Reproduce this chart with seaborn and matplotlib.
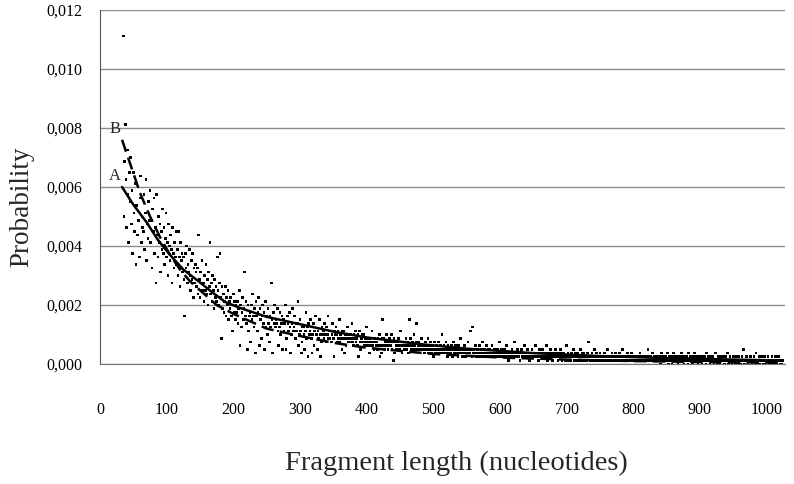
import numpy as np
import pandas as pd
import matplotlib
matplotlib.use("Agg")
import matplotlib.pyplot as plt
from matplotlib.ticker import FuncFormatter, MultipleLocator
import seaborn as sns

# Fragment counts per length (lengths 35..1024 nt), normalised by the total count
first_length = 35
last_length = 1024
total_fragments = 8000
counts = [
    89, 40, 55, 65, 50, 37, 58, 46, 33, 52,
    44, 56, 38, 47, 30, 52, 41, 36, 49, 27,
    43, 35, 48, 39, 29, 45, 51, 33, 40, 37,
    36, 46, 31, 41, 50, 28, 38, 34, 44, 39,
    47, 33, 39, 26, 42, 36, 45, 30, 37, 22,
    46, 35, 29, 40, 33, 38, 25, 36, 31, 42,
    30, 37, 27, 34, 41, 29, 33, 24, 38, 32,
    28, 35, 31, 22, 37, 30, 26, 33, 29, 36,
    27, 31, 24, 36, 29, 21, 33, 28, 30, 25,
    29, 23, 13, 30, 26, 32, 22, 27, 25, 31,
    24, 20, 28, 23, 30, 18, 26, 22, 27, 25,
    21, 26, 19, 35, 23, 18, 25, 22, 28, 20,
    22, 17, 24, 20, 27, 19, 23, 16, 25, 21,
    33, 19, 22, 17, 24, 20, 15, 23, 18, 21,
    17, 29, 20, 16, 22, 30, 18, 7, 21, 15,
    19, 14, 17, 21, 13, 18, 16, 20, 12, 17,
    15, 18, 13, 16, 9, 19, 14, 17, 12, 16,
    14, 17, 11, 15, 20, 5, 16, 10, 14, 18,
    12, 15, 25, 13, 17, 11, 4, 16, 9, 13,
    14, 6, 16, 12, 19, 13, 10, 15, 3, 17,
    13, 9, 14, 18, 5, 15, 12, 7, 13, 16,
    11, 14, 4, 17, 10, 13, 8, 15, 11, 6,
    13, 10, 22, 12, 3, 14, 11, 16, 10, 12,
    11, 15, 9, 5, 10, 14, 8, 11, 13, 4,
    12, 9, 11, 16, 4, 7, 13, 11, 9, 14,
    10, 3, 8, 11, 15, 9, 10, 13, 7, 11,
    9, 11, 17, 5, 8, 12, 9, 3, 6, 10,
    10, 8, 4, 9, 14, 7, 10, 2, 11, 8,
    9, 12, 7, 3, 8, 11, 5, 9, 13, 8,
    8, 4, 9, 7, 12, 8, 2, 6, 10, 8,
    9, 7, 11, 8, 6, 10, 8, 13, 7, 9,
    7, 9, 6, 8, 11, 7, 2, 9, 8, 10,
    8, 6, 9, 7, 12, 6, 8, 7, 4, 9,
    7, 9, 3, 8, 5, 7, 10, 6, 8, 7,
    6, 8, 7, 11, 6, 5, 8, 7, 9, 6,
    7, 5, 8, 2, 9, 6, 4, 7, 6, 8,
    6, 8, 5, 7, 6, 10, 5, 7, 6, 3,
    5, 7, 6, 9, 5, 6, 4, 7, 6, 5,
    6, 4, 7, 5, 8, 2, 5, 3, 7, 12,
    5, 7, 4, 6, 5, 8, 6, 4, 5, 7,
    6, 5, 8, 4, 6, 1, 7, 3, 6, 5,
    4, 6, 5, 7, 4, 5, 9, 5, 3, 6,
    5, 4, 6, 5, 7, 4, 5, 6, 3, 12,
    5, 7, 4, 5, 6, 4, 8, 5, 4, 6,
    11, 4, 5, 6, 4, 3, 5, 7, 4, 5,
    4, 5, 3, 6, 4, 5, 4, 7, 3, 5,
    4, 6, 3, 4, 5, 2, 4, 6, 3, 4,
    5, 3, 4, 6, 3, 4, 5, 3, 8, 4,
    3, 5, 4, 3, 6, 4, 2, 5, 3, 4,
    4, 3, 5, 4, 2, 6, 3, 4, 5, 3,
    3, 4, 2, 5, 3, 4, 7, 3, 4, 2,
    4, 3, 5, 2, 4, 3, 4, 6, 3, 4,
    3, 9, 4, 2, 10, 3, 4, 3, 5, 2,
    3, 4, 2, 3, 5, 3, 2, 4, 3, 6,
    2, 3, 4, 3, 2, 5, 3, 4, 2, 3,
    4, 2, 3, 5, 3, 2, 4, 3, 2, 4,
    3, 2, 4, 3, 6, 2, 3, 4, 2, 3,
    2, 3, 4, 2, 3, 5, 2, 3, 1, 3,
    3, 2, 3, 4, 2, 3, 2, 6, 3, 2,
    2, 4, 3, 2, 3, 1, 3, 4, 2, 3,
    3, 2, 5, 3, 2, 3, 4, 2, 3, 1,
    2, 3, 2, 4, 3, 2, 3, 2, 5, 2,
    3, 2, 3, 1, 4, 2, 3, 2, 3, 4,
    2, 3, 2, 3, 2, 5, 1, 3, 2, 3,
    2, 4, 2, 3, 1, 2, 3, 2, 4, 2,
    3, 2, 1, 2, 3, 2, 4, 2, 1, 3,
    2, 3, 2, 1, 2, 5, 2, 3, 1, 2,
    2, 1, 3, 2, 2, 4, 1, 2, 3, 2,
    1, 2, 3, 2, 1, 2, 4, 2, 1, 3,
    2, 3, 1, 2, 2, 1, 3, 2, 6, 2,
    2, 1, 2, 3, 1, 2, 2, 4, 1, 2,
    3, 2, 1, 2, 2, 3, 1, 2, 2, 1,
    2, 1, 3, 2, 1, 2, 4, 1, 2, 2,
    1, 2, 2, 3, 1, 2, 1, 2, 3, 1,
    2, 1, 2, 1, 3, 2, 1, 2, 1, 4,
    1, 2, 1, 2, 2, 1, 3, 1, 2, 1,
    2, 1, 3, 1, 2, 1, 2, 2, 1, 2,
    1, 2, 1, 2, 1, 3, 1, 2, 1, 2,
    2, 1, 2, 1, 2, 1, 1, 4, 2, 1,
    1, 2, 1, 1, 3, 1, 2, 1, 2, 1,
    2, 1, 1, 2, 1, 2, 0, 3, 1, 2,
    1, 2, 1, 1, 2, 1, 3, 1, 0, 2,
    1, 1, 2, 0, 1, 3, 1, 2, 1, 1,
    2, 1, 0, 1, 2, 1, 1, 3, 1, 2,
    1, 0, 2, 1, 1, 2, 1, 0, 3, 1,
    1, 2, 1, 1, 0, 2, 1, 3, 1, 1,
    2, 1, 0, 1, 2, 1, 1, 2, 0, 1,
    1, 1, 2, 1, 0, 3, 1, 1, 2, 1,
    0, 2, 1, 1, 2, 1, 0, 1, 3, 1,
    1, 0, 2, 1, 1, 0, 2, 1, 1, 2,
    1, 1, 0, 2, 1, 1, 3, 1, 0, 1,
    2, 1, 1, 0, 1, 2, 1, 1, 0, 2,
    1, 0, 1, 2, 1, 1, 0, 1, 2, 1,
    4, 1, 0, 1, 1, 2, 1, 0, 1, 1,
    1, 2, 1, 0, 1, 1, 2, 1, 0, 3,
    1, 0, 1, 1, 2, 0, 1, 1, 2, 1,
    0, 1, 2, 1, 0, 1, 1, 2, 1, 0,
    1, 1, 0, 2, 1, 1, 0, 1, 2, 1,
    0, 1, 1, 2, 1, 0, 1, 1, 0, 1,
]

# Model curve A (solid)
curve_a_length = [33, 50, 70, 87, 105, 125, 148, 170, 188, 210, 250, 300,
                  350, 400, 478, 550, 650, 750, 850, 950, 1024]
curve_a_prob = [0.0060, 0.0054, 0.0048, 0.0042, 0.0037, 0.0032, 0.0028,
                0.0024, 0.0021, 0.0019, 0.0016, 0.00135, 0.00110, 0.00090,
                0.00068, 0.00052, 0.00037, 0.00027, 0.00020, 0.00015, 0.00012]

# Model curve B (dashed)
curve_b_length = [33, 45, 60, 75, 90, 105, 120, 135, 150, 175, 200, 250,
                  300, 350, 400, 500, 600, 700, 800, 900, 1024]
curve_b_prob = [0.0076, 0.0068, 0.0058, 0.0050, 0.0043, 0.0037, 0.0032,
                0.0028, 0.0025, 0.0020, 0.0017, 0.0012, 0.00095, 0.00072,
                0.00055, 0.00034, 0.00022, 0.00015, 0.00010, 0.00007, 0.00005]

lengths = list(range(first_length, last_length + 1))
points = pd.DataFrame({"length": lengths,
                       "prob": np.array(counts) / total_fragments})
curve_a = pd.DataFrame({"length": curve_a_length, "prob": curve_a_prob})
curve_b = pd.DataFrame({"length": curve_b_length, "prob": curve_b_prob})

sns.set_style("white")
plt.rcParams["font.family"] = ["Liberation Serif", "DejaVu Serif"]

fig = plt.figure(figsize=(7.94, 4.84), dpi=100)
ax = fig.add_axes([0.1260, 0.2479, 0.8630, 0.7314])

ax.grid(axis="y", color="#8c8c8c", linewidth=1.0, zorder=0)
ax.set_axisbelow(True)

sns.scatterplot(data=points, x="length", y="prob", ax=ax, marker="s", s=3.5,
                color="black", edgecolor="none", linewidth=0, zorder=3,
                legend=False)
sns.lineplot(data=curve_a, x="length", y="prob", ax=ax, color="black",
             linewidth=1.8, zorder=4, sort=True)
sns.lineplot(data=curve_b, x="length", y="prob", ax=ax, color="black",
             linewidth=1.8, dashes=False, zorder=4, sort=True)
ax.lines[-1].set_dashes([5, 2.5])

ax.text(curve_a_length[0] - 2, curve_a_prob[0] + 0.0001, "A", ha="right",
        va="bottom", fontsize=12)
ax.text(curve_b_length[0] - 2, curve_b_prob[0] + 0.0001, "B", ha="right",
        va="bottom", fontsize=12)

ax.set_xlim(0, 1028)
ax.set_ylim(0, 0.012)
ax.xaxis.set_major_locator(MultipleLocator(100))
ax.yaxis.set_major_locator(MultipleLocator(0.002))
ax.yaxis.set_major_formatter(FuncFormatter(lambda v, _: f"{v:.3f}".replace(".", ",")))

for side in ("top", "right"):
    ax.spines[side].set_visible(False)
ax.spines["left"].set_color("#555555")
ax.spines["bottom"].set_color("#777777")
ax.tick_params(axis="both", which="major", direction="out", length=5,
               width=1, color="#555555", labelsize=11.5, labelcolor="black")
ax.tick_params(axis="x", pad=22)
ax.tick_params(axis="y", pad=8)

ax.set_xlabel("Fragment length (nucleotides)", fontsize=20.5)
ax.set_ylabel("Probability", fontsize=19.5)
ax.xaxis.set_label_coords(0.52, -0.244)
ax.yaxis.set_label_coords(-0.096, 0.443)

fig.savefig("out.png", dpi=100)
